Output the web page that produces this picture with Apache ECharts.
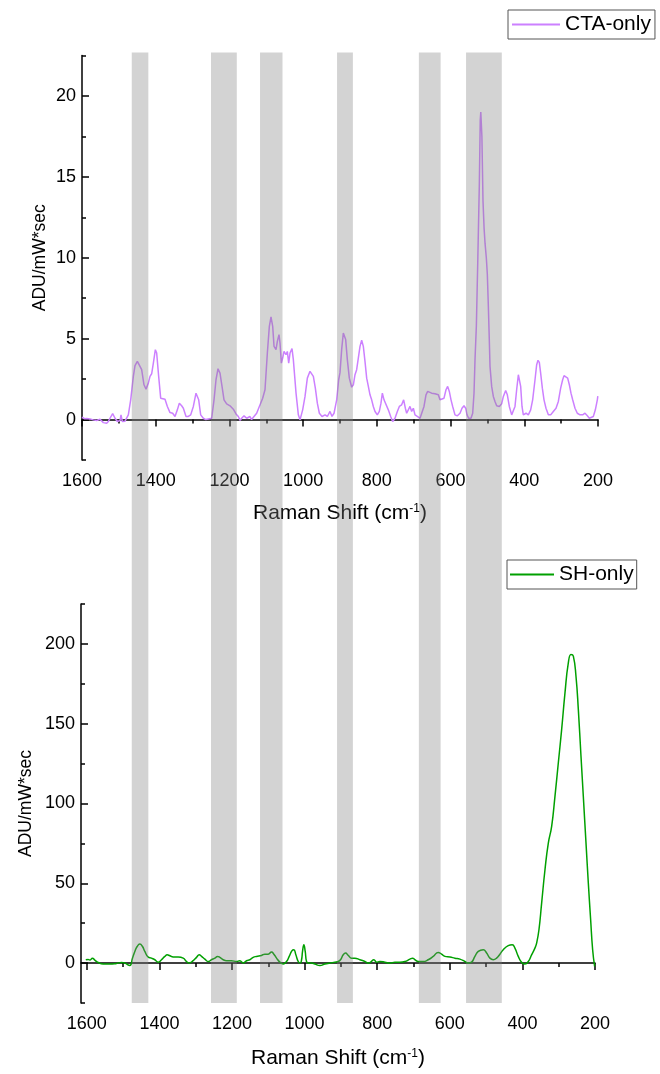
<!DOCTYPE html>
<html>
<head>
<meta charset="utf-8">
<script src="https://cdn.jsdelivr.net/npm/echarts@6/dist/echarts.min.js"></script>
<style>
html,body{margin:0;padding:0;background:#fff;}
#main{width:660px;height:1074px;}
</style>
</head>
<body>
<div id="main"></div>
<script>
// ---------- DATA ----------
const CTA_SHIFT = [1600,1598.2,1593,1587.3,1583,1578.3,1574,1569.2,1565,1560.2,1555,1551.1,1546,1542.1,1537,1533,1528,1524,1516.8,1510.4,1504.1,1496.9,1494.2,1490.5,1483.3,1478,1474.3,1467.9,1460.7,1456.2,1449.8,1444.4,1438.1,1431.8,1426.3,1420,1415.5,1411,1406.4,1401,1397.4,1392,1386.5,1381.1,1374.8,1368.4,1361.2,1354,1347.6,1341.3,1335.9,1329.6,1325,1317.8,1311.5,1305.1,1297.9,1290.7,1287.1,1283.4,1278,1270.8,1264,1257.2,1248.2,1241.8,1236.4,1231,1225.6,1220.1,1214.7,1207.5,1198.4,1189.4,1182.1,1175.8,1171,1166.8,1160.4,1153.2,1144.2,1140,1135.1,1126.1,1118.8,1109.8,1103.5,1097.1,1091.7,1087.2,1082.6,1079,1073.6,1070,1065.5,1062.8,1059.1,1055.5,1051.9,1046.5,1042.9,1039.2,1035.6,1030.2,1026.6,1019.3,1013,1008.5,1001.3,994.9,988.6,981.4,976.9,972.3,966.9,961.5,956,948.8,940.7,934.3,927.1,921.7,916.2,909,903.6,900,895.5,891,888.2,884.6,880.1,874.7,868.3,863.8,859.3,854.8,850.3,845.7,841.2,836.7,832.2,827.6,823.1,818.6,814.1,809.6,805,798.7,793.3,788.8,785.1,780.6,775.2,768.9,762.5,757.1,750.8,744.4,739,732.7,727.3,722.7,719.1,714.6,710.1,705.6,701,696.5,690.2,682.9,677.5,672.1,666.7,662.1,657.6,651.3,642.2,633.2,628.7,624.2,617.8,612.4,607.9,603.4,598.8,594.3,588,581.6,574.4,569,563.6,559,555.4,550.9,544.6,540,536.4,533.7,530,526,522,519.5,518,516.5,515,512,509,506.5,503,500.3,497.5,495,493,488.5,484,479.5,474.9,467.7,461.4,456.8,450.5,446,440.6,434.2,429.7,425.2,420.7,416.1,413.4,409.8,406.2,402.6,395.3,389,382.7,377.3,370.9,366.4,362.8,359.2,355.6,351,346.5,341.1,334.7,328.4,321.2,313.9,307.6,301.3,295.9,292.2,286.8,282.3,277.7,273.3,268.7,262.4,256.1,248.8,241.6,235.3,228.9,223.5,219.9,212.7,207.2,201.8,200.5];
const CTA_ADU = [0.15,0.14,0.05,0.06,0.12,0.04,-0.05,-0.02,0.05,-0.06,0,0.02,-0.1,-0.19,-0.15,-0.23,-0.1,0.08,0.37,0.08,-0.12,-0.06,0.29,-0.12,-0.1,0,0.29,1.22,2.67,3.33,3.6,3.53,3.08,2.15,1.88,2.25,2.67,2.83,3.49,4.32,4.11,2.67,1.32,1.26,1.26,0.81,0.43,0.39,0.19,0.6,1.01,0.85,0.7,0.19,0.19,0.29,0.81,1.63,1.74,1.22,0.29,0.08,0,0.04,0.08,1.22,2.46,3.14,2.87,2.05,1.22,0.97,0.85,0.64,0.35,0.19,-0.05,0.08,0.23,0.08,0.19,0,0.08,0.39,0.81,1.32,1.84,4.11,5.76,6.34,5.76,4.52,4.32,4.83,5.25,4.73,3.49,3.8,4.21,4.01,4.21,3.49,4.11,4.38,3.7,1.63,0.29,-0.02,0.6,1.43,2.56,2.98,3.04,2.67,1.94,1.01,0.39,0.19,0.29,0.19,0.5,0.19,0.39,1.22,2.46,2.9,4.32,5.35,5.41,4.94,3.7,2.56,2,2.15,2.77,3.08,3.8,4.52,4.9,4.52,3.6,2.56,2.05,1.53,1.22,0.81,0.5,0.29,0.5,1.01,1.63,1.22,1.12,0.6,0.19,-0.12,0.08,0.5,0.81,0.91,1.22,0.7,0.39,0.39,0.81,0.5,0.7,0.29,0.19,0.08,0.19,0.81,1.53,1.74,1.63,1.63,1.59,1.53,1.22,1.16,1.32,1.84,2.05,1.74,1.22,0.81,0.29,0.23,0.39,0.7,0.85,0.7,0.29,0.08,0.08,0.39,1.63,3.7,5.8,10,14.5,18.5,19,19,17.5,13.5,11.8,10.9,10,9,7,5,3.29,2.05,1.43,1.12,0.85,0.81,0.97,1.43,1.8,1.53,0.81,0.29,0.19,0.81,1.84,2.77,2.83,2.05,0.81,0.29,0.39,0.29,0.6,1.22,2.46,3.39,3.66,3.53,2.87,1.94,1.22,0.7,0.29,0.29,0.5,0.7,1.12,1.94,2.46,2.71,2.67,2.56,2.15,1.63,1.22,0.7,0.39,0.29,0.29,0.39,0.23,0.08,0.02,0.19,0.6,1.22,1.45];

const SH_SHIFT = [1602.8,1596.3,1591.7,1584.4,1578,1568.8,1555,1536.6,1518.3,1504.5,1495.3,1481.5,1474.2,1467.7,1461.3,1454,1446.6,1440.2,1431,1421.8,1412.6,1403.4,1394.2,1385.1,1378.6,1371.3,1362.1,1348.3,1334.5,1325.4,1318,1307,1297.8,1290.4,1283.9,1274.8,1265.6,1256.4,1247.3,1239.9,1233.5,1224.3,1215.1,1201.3,1187.6,1178.4,1169.2,1160,1150.8,1141.6,1132.5,1118.7,1109.5,1100.3,1091.1,1084.7,1077.3,1068.1,1059,1049.8,1042.4,1035.1,1029.6,1024.1,1017.6,1012.1,1008.4,1005.7,1002,998.3,994.7,990.1,980.9,971.7,957.9,944.1,930.3,916.6,907.4,901,893.6,887.2,879.8,870.6,861.5,847.7,833.9,824.7,818.3,809.1,801.8,792.6,778.8,765,751.2,737.5,723.7,709.9,702.6,696.1,686.9,673.1,659.4,645.6,631.8,622.6,613.5,599.7,585.9,572.1,558.3,549.2,540,530.8,521.6,507.8,498.6,489.5,480.3,471.1,461.9,452.7,439,427.9,420.6,411.4,402.2,393,383.8,374.7,365.5,360.8,354.4,347,337.8,328.6,319.4,310.3,301.1,291.9,282.7,273.5,266.2,259.7,252.4,245.9,238.6,232.2,224.8,218.4,212,206.5,201];
const SH_ADU = [2.1,2.3,1.9,3.1,1.9,0.4,-0.6,-0.6,-0.2,0.4,0,-1.5,3.1,7.3,10.4,11.9,10.4,7.3,3.8,3.1,2.1,0.6,2.1,4.2,5.2,4.6,3.8,3.8,3.1,1,0,1.5,3.6,5.2,4.2,2.5,1,2.1,3.1,4.2,3.6,2.1,1.5,1.5,1,1.5,0,1.5,2.1,3.6,4.2,4.8,5.6,5.6,6.9,5.6,3.1,0.6,-0.6,1,4.2,7.7,8.4,5.2,1,0,2.1,7.3,11.5,7.3,1,0,0,-0.6,-1.5,-0.6,0,0.6,1,2.1,5.2,6.3,4.8,3.1,3.1,2.1,1,0,0.6,2.1,0.6,1,0.6,0,0.6,0.6,1,2.5,3.1,2.1,1,1,2.1,4.2,6.7,5.6,4.2,3.8,3.1,2.5,1,0,0.6,4.2,7.3,8.4,6.3,3.1,2.1,3.1,5.6,8.4,10.9,11.5,9.4,4.2,0.6,-0.6,1,5.2,9.4,12.5,20.9,37.6,58.5,75.2,85.7,104.5,125.4,146.3,169.3,188.1,193.3,192.3,179.7,158.8,129.6,104.5,75.2,50.2,27.2,8.4,-2.1];

const X_LABELS = [1600,1400,1200,1000,800,600,400,200];
const X_MINOR = [1500,1300,1100,900,700,500,300];
const Y1_LABELS = [0,5,10,15,20];
const Y1_MINOR = [-2.5,2.5,7.5,12.5,17.5,22.5];
const Y2_LABELS = [0,50,100,150,200];
const Y2_MINOR = [-25,25,75,125,175,225];
const BANDS = [[1465,1420],[1250,1180],[1117,1056],[908,865],[686,627],[558,461]];

// ---------- CHART ----------
const FONT = '"Liberation Sans", Arial, sans-serif';
const chart = echarts.init(document.getElementById('main'), null, {renderer:'canvas'});
const AX = {color:'#000', width:1.5};
const plain = function(v){ return String(v); };
const xName = {
  fontFamily: FONT, fontSize: 21, color:'#000',
  rich: {
    a: {fontFamily: FONT, fontSize: 21, color:'#000'},
    s: {fontFamily: FONT, fontSize: 12, color:'#000', verticalAlign:'top', padding:[0,0,9,0]}
  }
};
function xMajor(grid, max, gap){
  return {gridIndex:grid, type:'value', inverse:true, min:200, max:max, position:'bottom', offset:0,
    axisLine:{show:true, lineStyle:AX}, splitLine:{show:false},
    axisTick:{show:true, inside:false, length:7, lineStyle:AX, customValues:X_LABELS},
    axisLabel:{show:true, customValues:X_LABELS, formatter:plain, margin:12, fontFamily:FONT, fontSize:18, color:'#000'},
    name:'{a|Raman Shift (cm}{s|-1}{a|)}', nameLocation:'middle', nameGap:gap, nameMoveOverlap:false,
    nameTextStyle:xName};
}
function xMinor(grid, max){
  return {gridIndex:grid, type:'value', inverse:true, min:200, max:max, position:'bottom', offset:0,
    axisLine:{show:false}, splitLine:{show:false},
    axisTick:{show:true, inside:false, length:4, lineStyle:AX, customValues:X_MINOR},
    axisLabel:{show:false}};
}
function yMajor(grid, min, max, labels, gap){
  return {gridIndex:grid, type:'value', min:min, max:max, position:'left', offset:0,
    axisLine:{show:true, lineStyle:AX}, splitLine:{show:false},
    axisTick:{show:true, inside:true, length:7, lineStyle:AX, customValues:labels},
    axisLabel:{show:true, customValues:labels, formatter:plain, margin:6, fontFamily:FONT, fontSize:18, color:'#000'},
    name:'ADU/mW*sec', nameLocation:'middle', nameRotate:90, nameGap:gap, nameMoveOverlap:false,
    nameTextStyle:{fontFamily:FONT, fontSize:17.5, color:'#000'}};
}
function yMinor(grid, min, max, minors){
  return {gridIndex:grid, type:'value', min:min, max:max, position:'left', offset:0,
    axisLine:{show:false}, splitLine:{show:false},
    axisTick:{show:true, inside:true, length:4, lineStyle:AX, customValues:minors},
    axisLabel:{show:false}};
}

const option = {
  animation:false,
  backgroundColor:'#fff',
  grid:[
    {left:82, top:55.5, width:516, height:404.5, containLabel:false},
    {left:81, top:604, width:514, height:399, containLabel:false}
  ],
  xAxis:[xMajor(0,1600,43), xMinor(0,1600), xMajor(1,1616,45), xMinor(1,1616)],
  yAxis:[yMajor(0,-2.5,22.5,Y1_LABELS,33), yMinor(0,-2.5,22.5,Y1_MINOR),
         yMajor(1,-25,225,Y2_LABELS,46), yMinor(1,-25,225,Y2_MINOR)],
  legend:[
    {data:['CTA-only'], left:508, top:10, orient:'horizontal', icon:'rect', itemWidth:48, itemHeight:2,
     padding:[4,4,4,4], borderColor:'#555', borderWidth:1, backgroundColor:'#fff', borderRadius:0,
     textStyle:{fontFamily:FONT, fontSize:21, color:'#000'}},
    {data:['SH-only'], left:507, top:560, orient:'horizontal', icon:'rect', itemWidth:44, itemHeight:2,
     padding:[4,3,4,3], borderColor:'#555', borderWidth:1, backgroundColor:'#fff', borderRadius:0,
     textStyle:{fontFamily:FONT, fontSize:21, color:'#000'}}
  ],
  series:[
    {name:'CTA-only', type:'line', xAxisIndex:0, yAxisIndex:0, symbol:'none', smooth:false,
     lineStyle:{color:'#cc80ff', width:1.5}, itemStyle:{color:'#cc80ff'},
     data: CTA_SHIFT.map((x,i)=>[x, CTA_ADU[i]])},
    {name:'SH-only', type:'line', xAxisIndex:2, yAxisIndex:2, symbol:'none', smooth:true,
     lineStyle:{color:'#00a000', width:1.5}, itemStyle:{color:'#00a000'},
     data: SH_SHIFT.map((x,i)=>[x, SH_ADU[i]])}
  ]
};
chart.setOption(option);

// shaded bands (positioned on the upper chart's wavenumber scale, spanning both panels)
const yTop = chart.convertToPixel({yAxisIndex:0}, 22.5) - 3;
const yBot = chart.convertToPixel({yAxisIndex:2}, -25);
const rects = BANDS.map(function(b){
  const x1 = chart.convertToPixel({xAxisIndex:0}, b[0]);
  const x2 = chart.convertToPixel({xAxisIndex:0}, b[1]);
  return {type:'rect', silent:true, z:100,
    shape:{x:Math.min(x1,x2), y:yTop, width:Math.abs(x2-x1), height:yBot-yTop},
    style:{fill:'rgba(128,128,128,0.35)'}};
});
chart.setOption({graphic:{elements:rects}});
</script>
</body>
</html>
